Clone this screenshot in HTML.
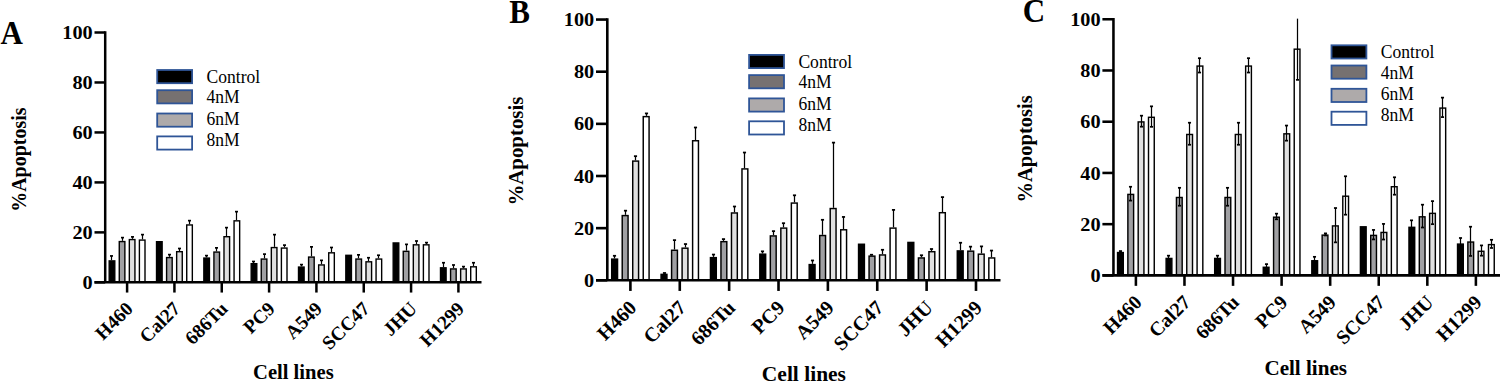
<!DOCTYPE html>
<html><head><meta charset="utf-8"><title>Apoptosis</title>
<style>
html,body{margin:0;padding:0;background:#fff;width:1500px;height:382px;overflow:hidden;}
svg{display:block;}
text{font-family:'Liberation Serif', serif;fill:#000;}
</style></head><body>
<svg width="1500" height="382" viewBox="0 0 1500 382">
<rect x="0" y="0" width="1500" height="382" fill="#fff"/>
<rect x="109.19" y="260.89" width="5.6" height="21.46" fill="#000000" stroke="#000" stroke-width="1.4"/>
<line x1="111.5" y1="255.94" x2="111.5" y2="260.19" stroke="#000" stroke-width="1.2"/>
<line x1="110" y1="255.94" x2="113" y2="255.94" stroke="#000" stroke-width="1.7"/>
<rect x="119.27" y="241.57" width="5.6" height="40.78" fill="#a0a0a3" stroke="#000" stroke-width="1.4"/>
<line x1="122.5" y1="237.63" x2="122.5" y2="240.87" stroke="#000" stroke-width="1.2"/>
<line x1="121" y1="237.63" x2="124" y2="237.63" stroke="#000" stroke-width="1.7"/>
<rect x="129.33" y="239.58" width="5.6" height="42.77" fill="#e0e0e0" stroke="#000" stroke-width="1.4"/>
<line x1="132.5" y1="236.88" x2="132.5" y2="238.88" stroke="#000" stroke-width="1.2"/>
<line x1="131" y1="236.88" x2="134" y2="236.88" stroke="#000" stroke-width="1.7"/>
<rect x="139.4" y="240.08" width="5.6" height="42.27" fill="#ffffff" stroke="#000" stroke-width="1.4"/>
<line x1="142.5" y1="234.63" x2="142.5" y2="239.38" stroke="#000" stroke-width="1.2"/>
<line x1="141" y1="234.63" x2="144" y2="234.63" stroke="#000" stroke-width="1.7"/>
<rect x="156.53" y="241.7" width="5.6" height="40.65" fill="#000000" stroke="#000" stroke-width="1.4"/>
<rect x="166.59" y="257.57" width="5.6" height="24.78" fill="#a0a0a3" stroke="#000" stroke-width="1.4"/>
<line x1="169.5" y1="254.62" x2="169.5" y2="256.87" stroke="#000" stroke-width="1.2"/>
<line x1="168" y1="254.62" x2="171" y2="254.62" stroke="#000" stroke-width="1.7"/>
<rect x="176.66" y="251.69" width="5.6" height="30.66" fill="#e0e0e0" stroke="#000" stroke-width="1.4"/>
<line x1="179.5" y1="248.5" x2="179.5" y2="250.99" stroke="#000" stroke-width="1.2"/>
<line x1="178" y1="248.5" x2="181" y2="248.5" stroke="#000" stroke-width="1.7"/>
<rect x="186.73" y="224.96" width="5.6" height="57.39" fill="#ffffff" stroke="#000" stroke-width="1.4"/>
<line x1="189.5" y1="220.64" x2="189.5" y2="224.26" stroke="#000" stroke-width="1.2"/>
<line x1="188" y1="220.64" x2="191" y2="220.64" stroke="#000" stroke-width="1.7"/>
<rect x="203.85" y="258.06" width="5.6" height="24.29" fill="#000000" stroke="#000" stroke-width="1.4"/>
<line x1="206.5" y1="255.62" x2="206.5" y2="257.37" stroke="#000" stroke-width="1.2"/>
<line x1="205" y1="255.62" x2="208" y2="255.62" stroke="#000" stroke-width="1.7"/>
<rect x="213.92" y="252.07" width="5.6" height="30.28" fill="#a0a0a3" stroke="#000" stroke-width="1.4"/>
<line x1="216.5" y1="247.87" x2="216.5" y2="251.37" stroke="#000" stroke-width="1.2"/>
<line x1="215" y1="247.87" x2="218" y2="247.87" stroke="#000" stroke-width="1.7"/>
<rect x="223.99" y="236.7" width="5.6" height="45.65" fill="#e0e0e0" stroke="#000" stroke-width="1.4"/>
<line x1="226.5" y1="227.63" x2="226.5" y2="236" stroke="#000" stroke-width="1.2"/>
<line x1="225" y1="227.63" x2="228" y2="227.63" stroke="#000" stroke-width="1.7"/>
<rect x="234.06" y="220.84" width="5.6" height="61.51" fill="#ffffff" stroke="#000" stroke-width="1.4"/>
<line x1="236.5" y1="211.64" x2="236.5" y2="220.14" stroke="#000" stroke-width="1.2"/>
<line x1="235" y1="211.64" x2="238" y2="211.64" stroke="#000" stroke-width="1.7"/>
<rect x="251.19" y="263.69" width="5.6" height="18.66" fill="#000000" stroke="#000" stroke-width="1.4"/>
<line x1="253.5" y1="261.49" x2="253.5" y2="262.99" stroke="#000" stroke-width="1.2"/>
<line x1="252" y1="261.49" x2="255" y2="261.49" stroke="#000" stroke-width="1.7"/>
<rect x="261.25" y="259.06" width="5.6" height="23.29" fill="#a0a0a3" stroke="#000" stroke-width="1.4"/>
<line x1="264.5" y1="254.12" x2="264.5" y2="258.36" stroke="#000" stroke-width="1.2"/>
<line x1="263" y1="254.12" x2="266" y2="254.12" stroke="#000" stroke-width="1.7"/>
<rect x="271.33" y="247.57" width="5.6" height="34.78" fill="#e0e0e0" stroke="#000" stroke-width="1.4"/>
<line x1="274.5" y1="234.63" x2="274.5" y2="246.87" stroke="#000" stroke-width="1.2"/>
<line x1="273" y1="234.63" x2="276" y2="234.63" stroke="#000" stroke-width="1.7"/>
<rect x="281.4" y="248.07" width="5.6" height="34.28" fill="#ffffff" stroke="#000" stroke-width="1.4"/>
<line x1="284.5" y1="245.12" x2="284.5" y2="247.37" stroke="#000" stroke-width="1.2"/>
<line x1="283" y1="245.12" x2="286" y2="245.12" stroke="#000" stroke-width="1.7"/>
<rect x="298.51" y="267.06" width="5.6" height="15.29" fill="#000000" stroke="#000" stroke-width="1.4"/>
<line x1="301.5" y1="264.61" x2="301.5" y2="266.36" stroke="#000" stroke-width="1.2"/>
<line x1="300" y1="264.61" x2="303" y2="264.61" stroke="#000" stroke-width="1.7"/>
<rect x="308.58" y="257.07" width="5.6" height="25.28" fill="#a0a0a3" stroke="#000" stroke-width="1.4"/>
<line x1="311.5" y1="246.87" x2="311.5" y2="256.37" stroke="#000" stroke-width="1.2"/>
<line x1="310" y1="246.87" x2="313" y2="246.87" stroke="#000" stroke-width="1.7"/>
<rect x="318.65" y="264.94" width="5.6" height="17.41" fill="#e0e0e0" stroke="#000" stroke-width="1.4"/>
<line x1="321.5" y1="260.36" x2="321.5" y2="264.24" stroke="#000" stroke-width="1.2"/>
<line x1="320" y1="260.36" x2="323" y2="260.36" stroke="#000" stroke-width="1.7"/>
<rect x="328.72" y="252.82" width="5.6" height="29.53" fill="#ffffff" stroke="#000" stroke-width="1.4"/>
<line x1="331.5" y1="247.5" x2="331.5" y2="252.12" stroke="#000" stroke-width="1.2"/>
<line x1="330" y1="247.5" x2="333" y2="247.5" stroke="#000" stroke-width="1.7"/>
<rect x="345.84" y="255.32" width="5.6" height="27.03" fill="#000000" stroke="#000" stroke-width="1.4"/>
<rect x="355.91" y="259.06" width="5.6" height="23.29" fill="#a0a0a3" stroke="#000" stroke-width="1.4"/>
<line x1="358.5" y1="254.87" x2="358.5" y2="258.36" stroke="#000" stroke-width="1.2"/>
<line x1="357" y1="254.87" x2="360" y2="254.87" stroke="#000" stroke-width="1.7"/>
<rect x="365.99" y="261.81" width="5.6" height="20.54" fill="#e0e0e0" stroke="#000" stroke-width="1.4"/>
<line x1="368.5" y1="257.74" x2="368.5" y2="261.11" stroke="#000" stroke-width="1.2"/>
<line x1="367" y1="257.74" x2="370" y2="257.74" stroke="#000" stroke-width="1.7"/>
<rect x="376.06" y="259.06" width="5.6" height="23.29" fill="#ffffff" stroke="#000" stroke-width="1.4"/>
<line x1="378.5" y1="255.24" x2="378.5" y2="258.36" stroke="#000" stroke-width="1.2"/>
<line x1="377" y1="255.24" x2="380" y2="255.24" stroke="#000" stroke-width="1.7"/>
<rect x="393.18" y="242.95" width="5.6" height="39.4" fill="#000000" stroke="#000" stroke-width="1.4"/>
<rect x="403.25" y="251.32" width="5.6" height="31.03" fill="#a0a0a3" stroke="#000" stroke-width="1.4"/>
<line x1="406.5" y1="244.37" x2="406.5" y2="250.62" stroke="#000" stroke-width="1.2"/>
<line x1="405" y1="244.37" x2="408" y2="244.37" stroke="#000" stroke-width="1.7"/>
<rect x="413.32" y="244.82" width="5.6" height="37.53" fill="#e0e0e0" stroke="#000" stroke-width="1.4"/>
<line x1="416.5" y1="241" x2="416.5" y2="244.12" stroke="#000" stroke-width="1.2"/>
<line x1="415" y1="241" x2="418" y2="241" stroke="#000" stroke-width="1.7"/>
<rect x="423.39" y="244.82" width="5.6" height="37.53" fill="#ffffff" stroke="#000" stroke-width="1.4"/>
<line x1="426.5" y1="242.62" x2="426.5" y2="244.12" stroke="#000" stroke-width="1.2"/>
<line x1="425" y1="242.62" x2="428" y2="242.62" stroke="#000" stroke-width="1.7"/>
<rect x="440.5" y="267.81" width="5.6" height="14.54" fill="#000000" stroke="#000" stroke-width="1.4"/>
<line x1="443.5" y1="262.74" x2="443.5" y2="267.11" stroke="#000" stroke-width="1.2"/>
<line x1="442" y1="262.74" x2="445" y2="262.74" stroke="#000" stroke-width="1.7"/>
<rect x="450.57" y="268.93" width="5.6" height="13.42" fill="#a0a0a3" stroke="#000" stroke-width="1.4"/>
<line x1="453.5" y1="264.99" x2="453.5" y2="268.23" stroke="#000" stroke-width="1.2"/>
<line x1="452" y1="264.99" x2="455" y2="264.99" stroke="#000" stroke-width="1.7"/>
<rect x="460.64" y="268.93" width="5.6" height="13.42" fill="#e0e0e0" stroke="#000" stroke-width="1.4"/>
<line x1="463.5" y1="266.61" x2="463.5" y2="268.23" stroke="#000" stroke-width="1.2"/>
<line x1="462" y1="266.61" x2="465" y2="266.61" stroke="#000" stroke-width="1.7"/>
<rect x="470.71" y="266.81" width="5.6" height="15.54" fill="#ffffff" stroke="#000" stroke-width="1.4"/>
<line x1="473.5" y1="262.74" x2="473.5" y2="266.11" stroke="#000" stroke-width="1.2"/>
<line x1="472" y1="262.74" x2="475" y2="262.74" stroke="#000" stroke-width="1.7"/>
<line x1="105.2" y1="31.25" x2="105.2" y2="282.35" stroke="#000" stroke-width="2.5"/>
<line x1="94.5" y1="282.35" x2="481.5" y2="282.35" stroke="#000" stroke-width="2.5"/>
<line x1="94.5" y1="282.35" x2="105.2" y2="282.35" stroke="#000" stroke-width="2.5"/>
<text transform="translate(92.7 288.95) scale(1.1 1)" font-size="18.4" font-weight="bold" text-anchor="end">0</text>
<line x1="94.5" y1="232.38" x2="105.2" y2="232.38" stroke="#000" stroke-width="2.5"/>
<text transform="translate(92.7 238.98) scale(1.1 1)" font-size="18.4" font-weight="bold" text-anchor="end">20</text>
<line x1="94.5" y1="182.41" x2="105.2" y2="182.41" stroke="#000" stroke-width="2.5"/>
<text transform="translate(92.7 189.01) scale(1.1 1)" font-size="18.4" font-weight="bold" text-anchor="end">40</text>
<line x1="94.5" y1="132.44" x2="105.2" y2="132.44" stroke="#000" stroke-width="2.5"/>
<text transform="translate(92.7 139.04) scale(1.1 1)" font-size="18.4" font-weight="bold" text-anchor="end">60</text>
<line x1="94.5" y1="82.47" x2="105.2" y2="82.47" stroke="#000" stroke-width="2.5"/>
<text transform="translate(92.7 89.07) scale(1.1 1)" font-size="18.4" font-weight="bold" text-anchor="end">80</text>
<line x1="94.5" y1="32.5" x2="105.2" y2="32.5" stroke="#000" stroke-width="2.5"/>
<text transform="translate(92.7 39.1) scale(1.1 1)" font-size="18.4" font-weight="bold" text-anchor="end">100</text>
<line x1="127.1" y1="282.35" x2="127.1" y2="292.55" stroke="#000" stroke-width="2.5"/>
<text transform="translate(134.1 309.85) rotate(-45)" font-size="19.3" font-weight="bold" text-anchor="end">H460</text>
<line x1="174.43" y1="282.35" x2="174.43" y2="292.55" stroke="#000" stroke-width="2.5"/>
<text transform="translate(181.43 309.85) rotate(-45)" font-size="19.3" font-weight="bold" text-anchor="end">Cal27</text>
<line x1="221.76" y1="282.35" x2="221.76" y2="292.55" stroke="#000" stroke-width="2.5"/>
<text transform="translate(228.76 309.85) rotate(-45)" font-size="19.3" font-weight="bold" text-anchor="end">686Tu</text>
<line x1="269.09" y1="282.35" x2="269.09" y2="292.55" stroke="#000" stroke-width="2.5"/>
<text transform="translate(276.09 309.85) rotate(-45)" font-size="19.3" font-weight="bold" text-anchor="end">PC9</text>
<line x1="316.42" y1="282.35" x2="316.42" y2="292.55" stroke="#000" stroke-width="2.5"/>
<text transform="translate(323.42 309.85) rotate(-45)" font-size="19.3" font-weight="bold" text-anchor="end">A549</text>
<line x1="363.75" y1="282.35" x2="363.75" y2="292.55" stroke="#000" stroke-width="2.5"/>
<text transform="translate(370.75 309.85) rotate(-45)" font-size="19.3" font-weight="bold" text-anchor="end">SCC47</text>
<line x1="411.08" y1="282.35" x2="411.08" y2="292.55" stroke="#000" stroke-width="2.5"/>
<text transform="translate(418.08 309.85) rotate(-45)" font-size="19.3" font-weight="bold" text-anchor="end">JHU</text>
<line x1="458.41" y1="282.35" x2="458.41" y2="292.55" stroke="#000" stroke-width="2.5"/>
<text transform="translate(465.41 309.85) rotate(-45)" font-size="19.3" font-weight="bold" text-anchor="end">H1299</text>
<text transform="translate(293.35 379.4) scale(1.03 1)" font-size="20" font-weight="bold" text-anchor="middle">Cell lines</text>
<text transform="translate(25.8 159.6) rotate(-90)" font-size="20" font-weight="bold" text-anchor="middle">%Apoptosis</text>
<text transform="translate(0.4 43.6) scale(0.94 1)" font-size="33" font-weight="bold">A</text>
<rect x="157.2" y="70" width="34.9" height="13.2" fill="#000000" stroke="#2f5597" stroke-width="1.8"/>
<text transform="translate(206.5 82.9) scale(0.95 1)" font-size="18.5">Control</text>
<rect x="157.2" y="90.2" width="34.9" height="13.2" fill="#767171" stroke="#2f5597" stroke-width="1.8"/>
<text transform="translate(206.5 103.4) scale(0.95 1)" font-size="18.5">4nM</text>
<rect x="157.2" y="113.5" width="34.9" height="13.2" fill="#aeaaaa" stroke="#2f5597" stroke-width="1.8"/>
<text transform="translate(206.5 125.1) scale(0.95 1)" font-size="18.5">6nM</text>
<rect x="157.2" y="136.4" width="34.9" height="13.2" fill="#ffffff" stroke="#2f5597" stroke-width="1.8"/>
<text transform="translate(206.5 145.7) scale(0.95 1)" font-size="18.5">8nM</text>
<rect x="611.71" y="259.13" width="5.84" height="21.17" fill="#000000" stroke="#000" stroke-width="1.46"/>
<line x1="614.5" y1="255.79" x2="614.5" y2="258.4" stroke="#000" stroke-width="1.25"/>
<line x1="612.93" y1="255.79" x2="616.07" y2="255.79" stroke="#000" stroke-width="1.77"/>
<rect x="622.22" y="215.58" width="5.84" height="64.72" fill="#a0a0a3" stroke="#000" stroke-width="1.46"/>
<line x1="625.5" y1="210.68" x2="625.5" y2="214.85" stroke="#000" stroke-width="1.25"/>
<line x1="623.93" y1="210.68" x2="627.07" y2="210.68" stroke="#000" stroke-width="1.77"/>
<rect x="632.73" y="161.09" width="5.84" height="119.21" fill="#e0e0e0" stroke="#000" stroke-width="1.46"/>
<line x1="635.5" y1="156.18" x2="635.5" y2="160.36" stroke="#000" stroke-width="1.25"/>
<line x1="633.93" y1="156.18" x2="637.07" y2="156.18" stroke="#000" stroke-width="1.77"/>
<rect x="643.24" y="116.63" width="5.84" height="163.67" fill="#ffffff" stroke="#000" stroke-width="1.46"/>
<line x1="646.5" y1="113.42" x2="646.5" y2="115.9" stroke="#000" stroke-width="1.25"/>
<line x1="644.93" y1="113.42" x2="648.07" y2="113.42" stroke="#000" stroke-width="1.77"/>
<rect x="661.08" y="274.38" width="5.84" height="5.92" fill="#000000" stroke="#000" stroke-width="1.46"/>
<line x1="664.5" y1="273" x2="664.5" y2="273.65" stroke="#000" stroke-width="1.25"/>
<line x1="662.93" y1="273" x2="666.07" y2="273" stroke="#000" stroke-width="1.77"/>
<rect x="671.59" y="250.26" width="5.84" height="30.04" fill="#a0a0a3" stroke="#000" stroke-width="1.46"/>
<line x1="674.5" y1="240.14" x2="674.5" y2="249.53" stroke="#000" stroke-width="1.25"/>
<line x1="672.93" y1="240.14" x2="676.07" y2="240.14" stroke="#000" stroke-width="1.77"/>
<rect x="682.1" y="248.18" width="5.84" height="32.12" fill="#e0e0e0" stroke="#000" stroke-width="1.46"/>
<line x1="685.5" y1="244.06" x2="685.5" y2="247.45" stroke="#000" stroke-width="1.25"/>
<line x1="683.93" y1="244.06" x2="687.07" y2="244.06" stroke="#000" stroke-width="1.77"/>
<rect x="692.61" y="140.75" width="5.84" height="139.55" fill="#ffffff" stroke="#000" stroke-width="1.46"/>
<line x1="695.5" y1="127.5" x2="695.5" y2="140.02" stroke="#000" stroke-width="1.25"/>
<line x1="693.93" y1="127.5" x2="697.07" y2="127.5" stroke="#000" stroke-width="1.77"/>
<rect x="710.45" y="257.64" width="5.84" height="22.66" fill="#000000" stroke="#000" stroke-width="1.46"/>
<line x1="713.5" y1="254.56" x2="713.5" y2="256.91" stroke="#000" stroke-width="1.25"/>
<line x1="711.93" y1="254.56" x2="715.07" y2="254.56" stroke="#000" stroke-width="1.77"/>
<rect x="720.96" y="241.66" width="5.84" height="38.64" fill="#a0a0a3" stroke="#000" stroke-width="1.46"/>
<line x1="723.5" y1="239.1" x2="723.5" y2="240.93" stroke="#000" stroke-width="1.25"/>
<line x1="721.93" y1="239.1" x2="725.07" y2="239.1" stroke="#000" stroke-width="1.77"/>
<rect x="731.47" y="212.97" width="5.84" height="67.33" fill="#e0e0e0" stroke="#000" stroke-width="1.46"/>
<line x1="734.5" y1="206.51" x2="734.5" y2="212.24" stroke="#000" stroke-width="1.25"/>
<line x1="732.93" y1="206.51" x2="736.07" y2="206.51" stroke="#000" stroke-width="1.77"/>
<rect x="741.98" y="168.91" width="5.84" height="111.39" fill="#ffffff" stroke="#000" stroke-width="1.46"/>
<line x1="744.5" y1="152.53" x2="744.5" y2="168.18" stroke="#000" stroke-width="1.25"/>
<line x1="742.93" y1="152.53" x2="746.07" y2="152.53" stroke="#000" stroke-width="1.77"/>
<rect x="759.82" y="254.17" width="5.84" height="26.13" fill="#000000" stroke="#000" stroke-width="1.46"/>
<line x1="762.5" y1="251.36" x2="762.5" y2="253.44" stroke="#000" stroke-width="1.25"/>
<line x1="760.93" y1="251.36" x2="764.07" y2="251.36" stroke="#000" stroke-width="1.77"/>
<rect x="770.33" y="235.92" width="5.84" height="44.38" fill="#a0a0a3" stroke="#000" stroke-width="1.46"/>
<line x1="773.5" y1="231.15" x2="773.5" y2="235.19" stroke="#000" stroke-width="1.25"/>
<line x1="771.93" y1="231.15" x2="775.07" y2="231.15" stroke="#000" stroke-width="1.77"/>
<rect x="780.84" y="228.1" width="5.84" height="52.2" fill="#e0e0e0" stroke="#000" stroke-width="1.46"/>
<line x1="783.5" y1="223.2" x2="783.5" y2="227.37" stroke="#000" stroke-width="1.25"/>
<line x1="781.93" y1="223.2" x2="785.07" y2="223.2" stroke="#000" stroke-width="1.77"/>
<rect x="791.35" y="203.07" width="5.84" height="77.23" fill="#ffffff" stroke="#000" stroke-width="1.46"/>
<line x1="794.5" y1="195.3" x2="794.5" y2="202.34" stroke="#000" stroke-width="1.25"/>
<line x1="792.93" y1="195.3" x2="796.07" y2="195.3" stroke="#000" stroke-width="1.77"/>
<rect x="809.19" y="264.6" width="5.84" height="15.7" fill="#000000" stroke="#000" stroke-width="1.46"/>
<line x1="812.5" y1="260.48" x2="812.5" y2="263.87" stroke="#000" stroke-width="1.25"/>
<line x1="810.93" y1="260.48" x2="814.07" y2="260.48" stroke="#000" stroke-width="1.77"/>
<rect x="819.7" y="235.53" width="5.84" height="44.77" fill="#a0a0a3" stroke="#000" stroke-width="1.46"/>
<line x1="822.5" y1="219.81" x2="822.5" y2="234.8" stroke="#000" stroke-width="1.25"/>
<line x1="820.93" y1="219.81" x2="824.07" y2="219.81" stroke="#000" stroke-width="1.77"/>
<rect x="830.21" y="208.54" width="5.84" height="71.76" fill="#e0e0e0" stroke="#000" stroke-width="1.46"/>
<line x1="833.5" y1="142.62" x2="833.5" y2="207.81" stroke="#000" stroke-width="1.25"/>
<line x1="831.93" y1="142.62" x2="835.07" y2="142.62" stroke="#000" stroke-width="1.77"/>
<rect x="840.72" y="229.79" width="5.84" height="50.51" fill="#ffffff" stroke="#000" stroke-width="1.46"/>
<line x1="843.5" y1="216.94" x2="843.5" y2="229.06" stroke="#000" stroke-width="1.25"/>
<line x1="841.93" y1="216.94" x2="845.07" y2="216.94" stroke="#000" stroke-width="1.77"/>
<rect x="858.56" y="244.26" width="5.84" height="36.04" fill="#000000" stroke="#000" stroke-width="1.46"/>
<rect x="869.07" y="256.13" width="5.84" height="24.17" fill="#a0a0a3" stroke="#000" stroke-width="1.46"/>
<line x1="871.5" y1="254.75" x2="871.5" y2="255.4" stroke="#000" stroke-width="1.25"/>
<line x1="869.93" y1="254.75" x2="873.07" y2="254.75" stroke="#000" stroke-width="1.77"/>
<rect x="879.58" y="254.96" width="5.84" height="25.34" fill="#e0e0e0" stroke="#000" stroke-width="1.46"/>
<line x1="882.5" y1="249.79" x2="882.5" y2="254.23" stroke="#000" stroke-width="1.25"/>
<line x1="880.93" y1="249.79" x2="884.07" y2="249.79" stroke="#000" stroke-width="1.77"/>
<rect x="890.09" y="228.1" width="5.84" height="52.2" fill="#ffffff" stroke="#000" stroke-width="1.46"/>
<line x1="893.5" y1="209.9" x2="893.5" y2="227.37" stroke="#000" stroke-width="1.25"/>
<line x1="891.93" y1="209.9" x2="895.07" y2="209.9" stroke="#000" stroke-width="1.77"/>
<rect x="907.93" y="242.44" width="5.84" height="37.86" fill="#000000" stroke="#000" stroke-width="1.46"/>
<rect x="918.44" y="257.95" width="5.84" height="22.35" fill="#a0a0a3" stroke="#000" stroke-width="1.46"/>
<line x1="921.5" y1="255.27" x2="921.5" y2="257.22" stroke="#000" stroke-width="1.25"/>
<line x1="919.93" y1="255.27" x2="923.07" y2="255.27" stroke="#000" stroke-width="1.77"/>
<rect x="928.95" y="251.7" width="5.84" height="28.6" fill="#e0e0e0" stroke="#000" stroke-width="1.46"/>
<line x1="931.5" y1="249.01" x2="931.5" y2="250.97" stroke="#000" stroke-width="1.25"/>
<line x1="929.93" y1="249.01" x2="933.07" y2="249.01" stroke="#000" stroke-width="1.77"/>
<rect x="939.46" y="212.71" width="5.84" height="67.59" fill="#ffffff" stroke="#000" stroke-width="1.46"/>
<line x1="942.5" y1="197.12" x2="942.5" y2="211.98" stroke="#000" stroke-width="1.25"/>
<line x1="940.93" y1="197.12" x2="944.07" y2="197.12" stroke="#000" stroke-width="1.77"/>
<rect x="957.3" y="250.91" width="5.84" height="29.39" fill="#000000" stroke="#000" stroke-width="1.46"/>
<line x1="960.5" y1="242.75" x2="960.5" y2="250.18" stroke="#000" stroke-width="1.25"/>
<line x1="958.93" y1="242.75" x2="962.07" y2="242.75" stroke="#000" stroke-width="1.77"/>
<rect x="967.81" y="251.17" width="5.84" height="29.13" fill="#a0a0a3" stroke="#000" stroke-width="1.46"/>
<line x1="970.5" y1="246.66" x2="970.5" y2="250.44" stroke="#000" stroke-width="1.25"/>
<line x1="968.93" y1="246.66" x2="972.07" y2="246.66" stroke="#000" stroke-width="1.77"/>
<rect x="978.32" y="254.17" width="5.84" height="26.13" fill="#e0e0e0" stroke="#000" stroke-width="1.46"/>
<line x1="981.5" y1="246.4" x2="981.5" y2="253.44" stroke="#000" stroke-width="1.25"/>
<line x1="979.93" y1="246.4" x2="983.07" y2="246.4" stroke="#000" stroke-width="1.77"/>
<rect x="988.83" y="257.95" width="5.84" height="22.35" fill="#ffffff" stroke="#000" stroke-width="1.46"/>
<line x1="991.5" y1="250.57" x2="991.5" y2="257.22" stroke="#000" stroke-width="1.25"/>
<line x1="989.93" y1="250.57" x2="993.07" y2="250.57" stroke="#000" stroke-width="1.77"/>
<line x1="607.3" y1="18.25" x2="607.3" y2="280.3" stroke="#000" stroke-width="2.61"/>
<line x1="596" y1="280.3" x2="1000.5" y2="280.3" stroke="#000" stroke-width="2.61"/>
<line x1="596" y1="280.3" x2="607.3" y2="280.3" stroke="#000" stroke-width="2.61"/>
<text transform="translate(594.2 286.9) scale(1.1 1)" font-size="18.4" font-weight="bold" text-anchor="end">0</text>
<line x1="596" y1="228.15" x2="607.3" y2="228.15" stroke="#000" stroke-width="2.61"/>
<text transform="translate(594.2 234.75) scale(1.1 1)" font-size="18.4" font-weight="bold" text-anchor="end">20</text>
<line x1="596" y1="176" x2="607.3" y2="176" stroke="#000" stroke-width="2.61"/>
<text transform="translate(594.2 182.6) scale(1.1 1)" font-size="18.4" font-weight="bold" text-anchor="end">40</text>
<line x1="596" y1="123.85" x2="607.3" y2="123.85" stroke="#000" stroke-width="2.61"/>
<text transform="translate(594.2 130.45) scale(1.1 1)" font-size="18.4" font-weight="bold" text-anchor="end">60</text>
<line x1="596" y1="71.7" x2="607.3" y2="71.7" stroke="#000" stroke-width="2.61"/>
<text transform="translate(594.2 78.3) scale(1.1 1)" font-size="18.4" font-weight="bold" text-anchor="end">80</text>
<line x1="596" y1="19.55" x2="607.3" y2="19.55" stroke="#000" stroke-width="2.61"/>
<text transform="translate(594.2 26.15) scale(1.1 1)" font-size="18.4" font-weight="bold" text-anchor="end">100</text>
<line x1="630.4" y1="280.3" x2="630.4" y2="290.94" stroke="#000" stroke-width="2.61"/>
<text transform="translate(637.71 309) rotate(-45)" font-size="20.14" font-weight="bold" text-anchor="end">H460</text>
<line x1="679.77" y1="280.3" x2="679.77" y2="290.94" stroke="#000" stroke-width="2.61"/>
<text transform="translate(687.08 309) rotate(-45)" font-size="20.14" font-weight="bold" text-anchor="end">Cal27</text>
<line x1="729.14" y1="280.3" x2="729.14" y2="290.94" stroke="#000" stroke-width="2.61"/>
<text transform="translate(736.45 309) rotate(-45)" font-size="20.14" font-weight="bold" text-anchor="end">686Tu</text>
<line x1="778.51" y1="280.3" x2="778.51" y2="290.94" stroke="#000" stroke-width="2.61"/>
<text transform="translate(785.82 309) rotate(-45)" font-size="20.14" font-weight="bold" text-anchor="end">PC9</text>
<line x1="827.88" y1="280.3" x2="827.88" y2="290.94" stroke="#000" stroke-width="2.61"/>
<text transform="translate(835.19 309) rotate(-45)" font-size="20.14" font-weight="bold" text-anchor="end">A549</text>
<line x1="877.25" y1="280.3" x2="877.25" y2="290.94" stroke="#000" stroke-width="2.61"/>
<text transform="translate(884.56 309) rotate(-45)" font-size="20.14" font-weight="bold" text-anchor="end">SCC47</text>
<line x1="926.62" y1="280.3" x2="926.62" y2="290.94" stroke="#000" stroke-width="2.61"/>
<text transform="translate(933.93 309) rotate(-45)" font-size="20.14" font-weight="bold" text-anchor="end">JHU</text>
<line x1="975.99" y1="280.3" x2="975.99" y2="290.94" stroke="#000" stroke-width="2.61"/>
<text transform="translate(983.3 309) rotate(-45)" font-size="20.14" font-weight="bold" text-anchor="end">H1299</text>
<text transform="translate(803.9 381) scale(1.03 1)" font-size="20.87" font-weight="bold" text-anchor="middle">Cell lines</text>
<text transform="translate(523.2 151.1) rotate(-90)" font-size="20.87" font-weight="bold" text-anchor="middle">%Apoptosis</text>
<text transform="translate(509.2 23.2) scale(0.94 1)" font-size="33" font-weight="bold">B</text>
<rect x="749.1" y="54.9" width="34.9" height="13.2" fill="#000000" stroke="#2f5597" stroke-width="1.8"/>
<text transform="translate(798.4 67.8) scale(0.95 1)" font-size="18.5">Control</text>
<rect x="749.1" y="75.1" width="34.9" height="13.2" fill="#767171" stroke="#2f5597" stroke-width="1.8"/>
<text transform="translate(798.4 88.3) scale(0.95 1)" font-size="18.5">4nM</text>
<rect x="749.1" y="98.4" width="34.9" height="13.2" fill="#aeaaaa" stroke="#2f5597" stroke-width="1.8"/>
<text transform="translate(798.4 110) scale(0.95 1)" font-size="18.5">6nM</text>
<rect x="749.1" y="121.3" width="34.9" height="13.2" fill="#ffffff" stroke="#2f5597" stroke-width="1.8"/>
<text transform="translate(798.4 130.6) scale(0.95 1)" font-size="18.5">8nM</text>
<rect x="1117.55" y="252.55" width="5.74" height="22.85" fill="#000000" stroke="#000" stroke-width="1.43"/>
<line x1="1120.5" y1="251.07" x2="1120.5" y2="252.6" stroke="#000" stroke-width="1.23"/>
<line x1="1118.96" y1="251.07" x2="1122.04" y2="251.07" stroke="#000" stroke-width="1.74"/>
<line x1="1118.96" y1="252.6" x2="1122.04" y2="252.6" stroke="#000" stroke-width="1.74"/>
<rect x="1127.87" y="194.41" width="5.74" height="80.99" fill="#a0a0a3" stroke="#000" stroke-width="1.43"/>
<line x1="1130.5" y1="186.77" x2="1130.5" y2="200.6" stroke="#000" stroke-width="1.23"/>
<line x1="1128.96" y1="186.77" x2="1132.04" y2="186.77" stroke="#000" stroke-width="1.74"/>
<line x1="1128.96" y1="200.6" x2="1132.04" y2="200.6" stroke="#000" stroke-width="1.74"/>
<rect x="1138.19" y="121.92" width="5.74" height="153.48" fill="#e0e0e0" stroke="#000" stroke-width="1.43"/>
<line x1="1141.5" y1="115.69" x2="1141.5" y2="126.7" stroke="#000" stroke-width="1.23"/>
<line x1="1139.96" y1="115.69" x2="1143.04" y2="115.69" stroke="#000" stroke-width="1.74"/>
<line x1="1139.96" y1="126.7" x2="1143.04" y2="126.7" stroke="#000" stroke-width="1.74"/>
<rect x="1148.51" y="117.3" width="5.74" height="158.1" fill="#ffffff" stroke="#000" stroke-width="1.43"/>
<line x1="1151.5" y1="106.34" x2="1151.5" y2="126.83" stroke="#000" stroke-width="1.23"/>
<line x1="1149.96" y1="106.34" x2="1153.04" y2="106.34" stroke="#000" stroke-width="1.74"/>
<line x1="1149.96" y1="126.83" x2="1153.04" y2="126.83" stroke="#000" stroke-width="1.74"/>
<rect x="1166.12" y="258.44" width="5.74" height="16.96" fill="#000000" stroke="#000" stroke-width="1.43"/>
<line x1="1168.5" y1="255.68" x2="1168.5" y2="259.77" stroke="#000" stroke-width="1.23"/>
<line x1="1166.96" y1="255.68" x2="1170.04" y2="255.68" stroke="#000" stroke-width="1.74"/>
<line x1="1166.96" y1="259.77" x2="1170.04" y2="259.77" stroke="#000" stroke-width="1.74"/>
<rect x="1176.44" y="197.48" width="5.74" height="77.92" fill="#a0a0a3" stroke="#000" stroke-width="1.43"/>
<line x1="1179.5" y1="187.8" x2="1179.5" y2="205.73" stroke="#000" stroke-width="1.23"/>
<line x1="1177.96" y1="187.8" x2="1181.04" y2="187.8" stroke="#000" stroke-width="1.74"/>
<line x1="1177.96" y1="205.73" x2="1181.04" y2="205.73" stroke="#000" stroke-width="1.74"/>
<rect x="1186.76" y="134.47" width="5.74" height="140.93" fill="#e0e0e0" stroke="#000" stroke-width="1.43"/>
<line x1="1189.5" y1="122.73" x2="1189.5" y2="144.76" stroke="#000" stroke-width="1.23"/>
<line x1="1187.96" y1="122.73" x2="1191.04" y2="122.73" stroke="#000" stroke-width="1.74"/>
<line x1="1187.96" y1="144.76" x2="1191.04" y2="144.76" stroke="#000" stroke-width="1.74"/>
<rect x="1197.08" y="66.07" width="5.74" height="209.33" fill="#ffffff" stroke="#000" stroke-width="1.43"/>
<line x1="1199.5" y1="58.18" x2="1199.5" y2="72.53" stroke="#000" stroke-width="1.23"/>
<line x1="1197.96" y1="58.18" x2="1201.04" y2="58.18" stroke="#000" stroke-width="1.74"/>
<line x1="1197.96" y1="72.53" x2="1201.04" y2="72.53" stroke="#000" stroke-width="1.74"/>
<rect x="1214.69" y="258.44" width="5.74" height="16.96" fill="#000000" stroke="#000" stroke-width="1.43"/>
<line x1="1217.5" y1="255.68" x2="1217.5" y2="259.77" stroke="#000" stroke-width="1.23"/>
<line x1="1215.96" y1="255.68" x2="1219.04" y2="255.68" stroke="#000" stroke-width="1.74"/>
<line x1="1215.96" y1="259.77" x2="1219.04" y2="259.77" stroke="#000" stroke-width="1.74"/>
<rect x="1225.01" y="197.48" width="5.74" height="77.92" fill="#a0a0a3" stroke="#000" stroke-width="1.43"/>
<line x1="1227.5" y1="187.8" x2="1227.5" y2="205.73" stroke="#000" stroke-width="1.23"/>
<line x1="1225.96" y1="187.8" x2="1229.04" y2="187.8" stroke="#000" stroke-width="1.74"/>
<line x1="1225.96" y1="205.73" x2="1229.04" y2="205.73" stroke="#000" stroke-width="1.74"/>
<rect x="1235.33" y="134.47" width="5.74" height="140.93" fill="#e0e0e0" stroke="#000" stroke-width="1.43"/>
<line x1="1238.5" y1="122.73" x2="1238.5" y2="144.76" stroke="#000" stroke-width="1.23"/>
<line x1="1236.96" y1="122.73" x2="1240.04" y2="122.73" stroke="#000" stroke-width="1.74"/>
<line x1="1236.96" y1="144.76" x2="1240.04" y2="144.76" stroke="#000" stroke-width="1.74"/>
<rect x="1245.65" y="66.07" width="5.74" height="209.33" fill="#ffffff" stroke="#000" stroke-width="1.43"/>
<line x1="1248.5" y1="58.18" x2="1248.5" y2="72.53" stroke="#000" stroke-width="1.23"/>
<line x1="1246.96" y1="58.18" x2="1250.04" y2="58.18" stroke="#000" stroke-width="1.74"/>
<line x1="1246.96" y1="72.53" x2="1250.04" y2="72.53" stroke="#000" stroke-width="1.74"/>
<rect x="1263.26" y="267.28" width="5.74" height="8.12" fill="#000000" stroke="#000" stroke-width="1.43"/>
<line x1="1266.5" y1="264.13" x2="1266.5" y2="269" stroke="#000" stroke-width="1.23"/>
<line x1="1264.96" y1="264.13" x2="1268.04" y2="264.13" stroke="#000" stroke-width="1.74"/>
<line x1="1264.96" y1="269" x2="1268.04" y2="269" stroke="#000" stroke-width="1.74"/>
<rect x="1273.58" y="217.2" width="5.74" height="58.2" fill="#a0a0a3" stroke="#000" stroke-width="1.43"/>
<line x1="1276.5" y1="213.67" x2="1276.5" y2="219.3" stroke="#000" stroke-width="1.23"/>
<line x1="1274.96" y1="213.67" x2="1278.04" y2="213.67" stroke="#000" stroke-width="1.74"/>
<line x1="1274.96" y1="219.3" x2="1278.04" y2="219.3" stroke="#000" stroke-width="1.74"/>
<rect x="1283.9" y="133.83" width="5.74" height="141.57" fill="#e0e0e0" stroke="#000" stroke-width="1.43"/>
<line x1="1286.5" y1="125.55" x2="1286.5" y2="140.67" stroke="#000" stroke-width="1.23"/>
<line x1="1284.96" y1="125.55" x2="1288.04" y2="125.55" stroke="#000" stroke-width="1.74"/>
<line x1="1284.96" y1="140.67" x2="1288.04" y2="140.67" stroke="#000" stroke-width="1.74"/>
<rect x="1294.22" y="49.17" width="5.74" height="226.23" fill="#ffffff" stroke="#000" stroke-width="1.43"/>
<line x1="1297.5" y1="18.65" x2="1297.5" y2="79.86" stroke="#000" stroke-width="1.23"/>
<line x1="1295.96" y1="79.86" x2="1299.04" y2="79.86" stroke="#000" stroke-width="1.74"/>
<rect x="1311.83" y="260.75" width="5.74" height="14.65" fill="#000000" stroke="#000" stroke-width="1.43"/>
<line x1="1314.5" y1="256.83" x2="1314.5" y2="263.23" stroke="#000" stroke-width="1.23"/>
<line x1="1312.96" y1="256.83" x2="1316.04" y2="256.83" stroke="#000" stroke-width="1.74"/>
<line x1="1312.96" y1="263.23" x2="1316.04" y2="263.23" stroke="#000" stroke-width="1.74"/>
<rect x="1322.15" y="235.13" width="5.74" height="40.27" fill="#a0a0a3" stroke="#000" stroke-width="1.43"/>
<line x1="1325.5" y1="233.39" x2="1325.5" y2="235.44" stroke="#000" stroke-width="1.23"/>
<line x1="1323.96" y1="233.39" x2="1327.04" y2="233.39" stroke="#000" stroke-width="1.74"/>
<line x1="1323.96" y1="235.44" x2="1327.04" y2="235.44" stroke="#000" stroke-width="1.74"/>
<rect x="1332.47" y="225.91" width="5.74" height="49.49" fill="#e0e0e0" stroke="#000" stroke-width="1.43"/>
<line x1="1335.5" y1="208.03" x2="1335.5" y2="242.36" stroke="#000" stroke-width="1.23"/>
<line x1="1333.96" y1="208.03" x2="1337.04" y2="208.03" stroke="#000" stroke-width="1.74"/>
<line x1="1333.96" y1="242.36" x2="1337.04" y2="242.36" stroke="#000" stroke-width="1.74"/>
<rect x="1342.79" y="196.2" width="5.74" height="79.2" fill="#ffffff" stroke="#000" stroke-width="1.43"/>
<line x1="1345.5" y1="176.27" x2="1345.5" y2="214.69" stroke="#000" stroke-width="1.23"/>
<line x1="1343.96" y1="176.27" x2="1347.04" y2="176.27" stroke="#000" stroke-width="1.74"/>
<line x1="1343.96" y1="214.69" x2="1347.04" y2="214.69" stroke="#000" stroke-width="1.74"/>
<rect x="1360.4" y="226.81" width="5.74" height="48.59" fill="#000000" stroke="#000" stroke-width="1.43"/>
<rect x="1370.72" y="235.39" width="5.74" height="40.01" fill="#a0a0a3" stroke="#000" stroke-width="1.43"/>
<line x1="1373.5" y1="229.93" x2="1373.5" y2="239.41" stroke="#000" stroke-width="1.23"/>
<line x1="1371.96" y1="229.93" x2="1375.04" y2="229.93" stroke="#000" stroke-width="1.74"/>
<line x1="1371.96" y1="239.41" x2="1375.04" y2="239.41" stroke="#000" stroke-width="1.74"/>
<rect x="1381.04" y="232.44" width="5.74" height="42.96" fill="#e0e0e0" stroke="#000" stroke-width="1.43"/>
<line x1="1383.5" y1="223.91" x2="1383.5" y2="239.54" stroke="#000" stroke-width="1.23"/>
<line x1="1381.96" y1="223.91" x2="1385.04" y2="223.91" stroke="#000" stroke-width="1.74"/>
<line x1="1381.96" y1="239.54" x2="1385.04" y2="239.54" stroke="#000" stroke-width="1.74"/>
<rect x="1391.36" y="186.72" width="5.74" height="88.68" fill="#ffffff" stroke="#000" stroke-width="1.43"/>
<line x1="1394.5" y1="177.29" x2="1394.5" y2="194.71" stroke="#000" stroke-width="1.23"/>
<line x1="1392.96" y1="177.29" x2="1396.04" y2="177.29" stroke="#000" stroke-width="1.74"/>
<line x1="1392.96" y1="194.71" x2="1396.04" y2="194.71" stroke="#000" stroke-width="1.74"/>
<rect x="1408.97" y="227.32" width="5.74" height="48.08" fill="#000000" stroke="#000" stroke-width="1.43"/>
<line x1="1411.5" y1="220.33" x2="1411.5" y2="232.88" stroke="#000" stroke-width="1.23"/>
<line x1="1409.96" y1="220.33" x2="1413.04" y2="220.33" stroke="#000" stroke-width="1.74"/>
<line x1="1409.96" y1="232.88" x2="1413.04" y2="232.88" stroke="#000" stroke-width="1.74"/>
<rect x="1419.29" y="216.82" width="5.74" height="58.58" fill="#a0a0a3" stroke="#000" stroke-width="1.43"/>
<line x1="1422.5" y1="204.7" x2="1422.5" y2="227.5" stroke="#000" stroke-width="1.23"/>
<line x1="1420.96" y1="204.7" x2="1424.04" y2="204.7" stroke="#000" stroke-width="1.74"/>
<line x1="1420.96" y1="227.5" x2="1424.04" y2="227.5" stroke="#000" stroke-width="1.74"/>
<rect x="1429.61" y="213.36" width="5.74" height="62.04" fill="#e0e0e0" stroke="#000" stroke-width="1.43"/>
<line x1="1432.5" y1="201.12" x2="1432.5" y2="224.17" stroke="#000" stroke-width="1.23"/>
<line x1="1430.96" y1="201.12" x2="1434.04" y2="201.12" stroke="#000" stroke-width="1.74"/>
<line x1="1430.96" y1="224.17" x2="1434.04" y2="224.17" stroke="#000" stroke-width="1.74"/>
<rect x="1439.93" y="108.08" width="5.74" height="167.32" fill="#ffffff" stroke="#000" stroke-width="1.43"/>
<line x1="1442.5" y1="97.63" x2="1442.5" y2="117.1" stroke="#000" stroke-width="1.23"/>
<line x1="1440.96" y1="97.63" x2="1444.04" y2="97.63" stroke="#000" stroke-width="1.74"/>
<line x1="1440.96" y1="117.1" x2="1444.04" y2="117.1" stroke="#000" stroke-width="1.74"/>
<rect x="1457.54" y="244.1" width="5.74" height="31.3" fill="#000000" stroke="#000" stroke-width="1.43"/>
<line x1="1460.5" y1="238" x2="1460.5" y2="248.76" stroke="#000" stroke-width="1.23"/>
<line x1="1458.96" y1="238" x2="1462.04" y2="238" stroke="#000" stroke-width="1.74"/>
<line x1="1458.96" y1="248.76" x2="1462.04" y2="248.76" stroke="#000" stroke-width="1.74"/>
<rect x="1467.86" y="242.05" width="5.74" height="33.35" fill="#a0a0a3" stroke="#000" stroke-width="1.43"/>
<line x1="1470.5" y1="226.73" x2="1470.5" y2="255.93" stroke="#000" stroke-width="1.23"/>
<line x1="1468.96" y1="226.73" x2="1472.04" y2="226.73" stroke="#000" stroke-width="1.74"/>
<line x1="1468.96" y1="255.93" x2="1472.04" y2="255.93" stroke="#000" stroke-width="1.74"/>
<rect x="1478.18" y="251.27" width="5.74" height="24.13" fill="#e0e0e0" stroke="#000" stroke-width="1.43"/>
<line x1="1481.5" y1="245.43" x2="1481.5" y2="255.68" stroke="#000" stroke-width="1.23"/>
<line x1="1479.96" y1="245.43" x2="1483.04" y2="245.43" stroke="#000" stroke-width="1.74"/>
<line x1="1479.96" y1="255.68" x2="1483.04" y2="255.68" stroke="#000" stroke-width="1.74"/>
<rect x="1488.5" y="244.61" width="5.74" height="30.79" fill="#ffffff" stroke="#000" stroke-width="1.43"/>
<line x1="1491.5" y1="239.8" x2="1491.5" y2="247.99" stroke="#000" stroke-width="1.23"/>
<line x1="1489.96" y1="239.8" x2="1493.04" y2="239.8" stroke="#000" stroke-width="1.74"/>
<line x1="1489.96" y1="247.99" x2="1493.04" y2="247.99" stroke="#000" stroke-width="1.74"/>
<line x1="1113.45" y1="17.97" x2="1113.45" y2="275.4" stroke="#000" stroke-width="2.56"/>
<line x1="1102.4" y1="275.4" x2="1501" y2="275.4" stroke="#000" stroke-width="2.56"/>
<line x1="1102.4" y1="275.4" x2="1113.45" y2="275.4" stroke="#000" stroke-width="2.56"/>
<text transform="translate(1100.6 282) scale(1.1 1)" font-size="18.4" font-weight="bold" text-anchor="end">0</text>
<line x1="1102.4" y1="224.17" x2="1113.45" y2="224.17" stroke="#000" stroke-width="2.56"/>
<text transform="translate(1100.6 230.77) scale(1.1 1)" font-size="18.4" font-weight="bold" text-anchor="end">20</text>
<line x1="1102.4" y1="172.94" x2="1113.45" y2="172.94" stroke="#000" stroke-width="2.56"/>
<text transform="translate(1100.6 179.54) scale(1.1 1)" font-size="18.4" font-weight="bold" text-anchor="end">40</text>
<line x1="1102.4" y1="121.71" x2="1113.45" y2="121.71" stroke="#000" stroke-width="2.56"/>
<text transform="translate(1100.6 128.31) scale(1.1 1)" font-size="18.4" font-weight="bold" text-anchor="end">60</text>
<line x1="1102.4" y1="70.48" x2="1113.45" y2="70.48" stroke="#000" stroke-width="2.56"/>
<text transform="translate(1100.6 77.08) scale(1.1 1)" font-size="18.4" font-weight="bold" text-anchor="end">80</text>
<line x1="1102.4" y1="19.25" x2="1113.45" y2="19.25" stroke="#000" stroke-width="2.56"/>
<text transform="translate(1100.6 25.85) scale(1.1 1)" font-size="18.4" font-weight="bold" text-anchor="end">100</text>
<line x1="1135.9" y1="275.4" x2="1135.9" y2="285.85" stroke="#000" stroke-width="2.56"/>
<text transform="translate(1143.08 303.59) rotate(-45)" font-size="19.78" font-weight="bold" text-anchor="end">H460</text>
<line x1="1184.47" y1="275.4" x2="1184.47" y2="285.85" stroke="#000" stroke-width="2.56"/>
<text transform="translate(1191.64 303.59) rotate(-45)" font-size="19.78" font-weight="bold" text-anchor="end">Cal27</text>
<line x1="1233.04" y1="275.4" x2="1233.04" y2="285.85" stroke="#000" stroke-width="2.56"/>
<text transform="translate(1240.22 303.59) rotate(-45)" font-size="19.78" font-weight="bold" text-anchor="end">686Tu</text>
<line x1="1281.61" y1="275.4" x2="1281.61" y2="285.85" stroke="#000" stroke-width="2.56"/>
<text transform="translate(1288.79 303.59) rotate(-45)" font-size="19.78" font-weight="bold" text-anchor="end">PC9</text>
<line x1="1330.18" y1="275.4" x2="1330.18" y2="285.85" stroke="#000" stroke-width="2.56"/>
<text transform="translate(1337.36 303.59) rotate(-45)" font-size="19.78" font-weight="bold" text-anchor="end">A549</text>
<line x1="1378.75" y1="275.4" x2="1378.75" y2="285.85" stroke="#000" stroke-width="2.56"/>
<text transform="translate(1385.92 303.59) rotate(-45)" font-size="19.78" font-weight="bold" text-anchor="end">SCC47</text>
<line x1="1427.32" y1="275.4" x2="1427.32" y2="285.85" stroke="#000" stroke-width="2.56"/>
<text transform="translate(1434.5 303.59) rotate(-45)" font-size="19.78" font-weight="bold" text-anchor="end">JHU</text>
<line x1="1475.89" y1="275.4" x2="1475.89" y2="285.85" stroke="#000" stroke-width="2.56"/>
<text transform="translate(1483.07 303.59) rotate(-45)" font-size="19.78" font-weight="bold" text-anchor="end">H1299</text>
<text transform="translate(1305.72 375) scale(1.03 1)" font-size="20.5" font-weight="bold" text-anchor="middle">Cell lines</text>
<text transform="translate(1031.9 148.9) rotate(-90)" font-size="20.5" font-weight="bold" text-anchor="middle">%Apoptosis</text>
<text transform="translate(1022.8 21.8) scale(0.94 1)" font-size="33" font-weight="bold">C</text>
<rect x="1331.5" y="45.3" width="34.9" height="13.2" fill="#000000" stroke="#2f5597" stroke-width="1.8"/>
<text transform="translate(1380.8 58.2) scale(0.95 1)" font-size="18.5">Control</text>
<rect x="1331.5" y="65.5" width="34.9" height="13.2" fill="#767171" stroke="#2f5597" stroke-width="1.8"/>
<text transform="translate(1380.8 78.7) scale(0.95 1)" font-size="18.5">4nM</text>
<rect x="1331.5" y="88.8" width="34.9" height="13.2" fill="#aeaaaa" stroke="#2f5597" stroke-width="1.8"/>
<text transform="translate(1380.8 100.4) scale(0.95 1)" font-size="18.5">6nM</text>
<rect x="1331.5" y="111.7" width="34.9" height="13.2" fill="#ffffff" stroke="#2f5597" stroke-width="1.8"/>
<text transform="translate(1380.8 121) scale(0.95 1)" font-size="18.5">8nM</text>
</svg>
</body></html>
